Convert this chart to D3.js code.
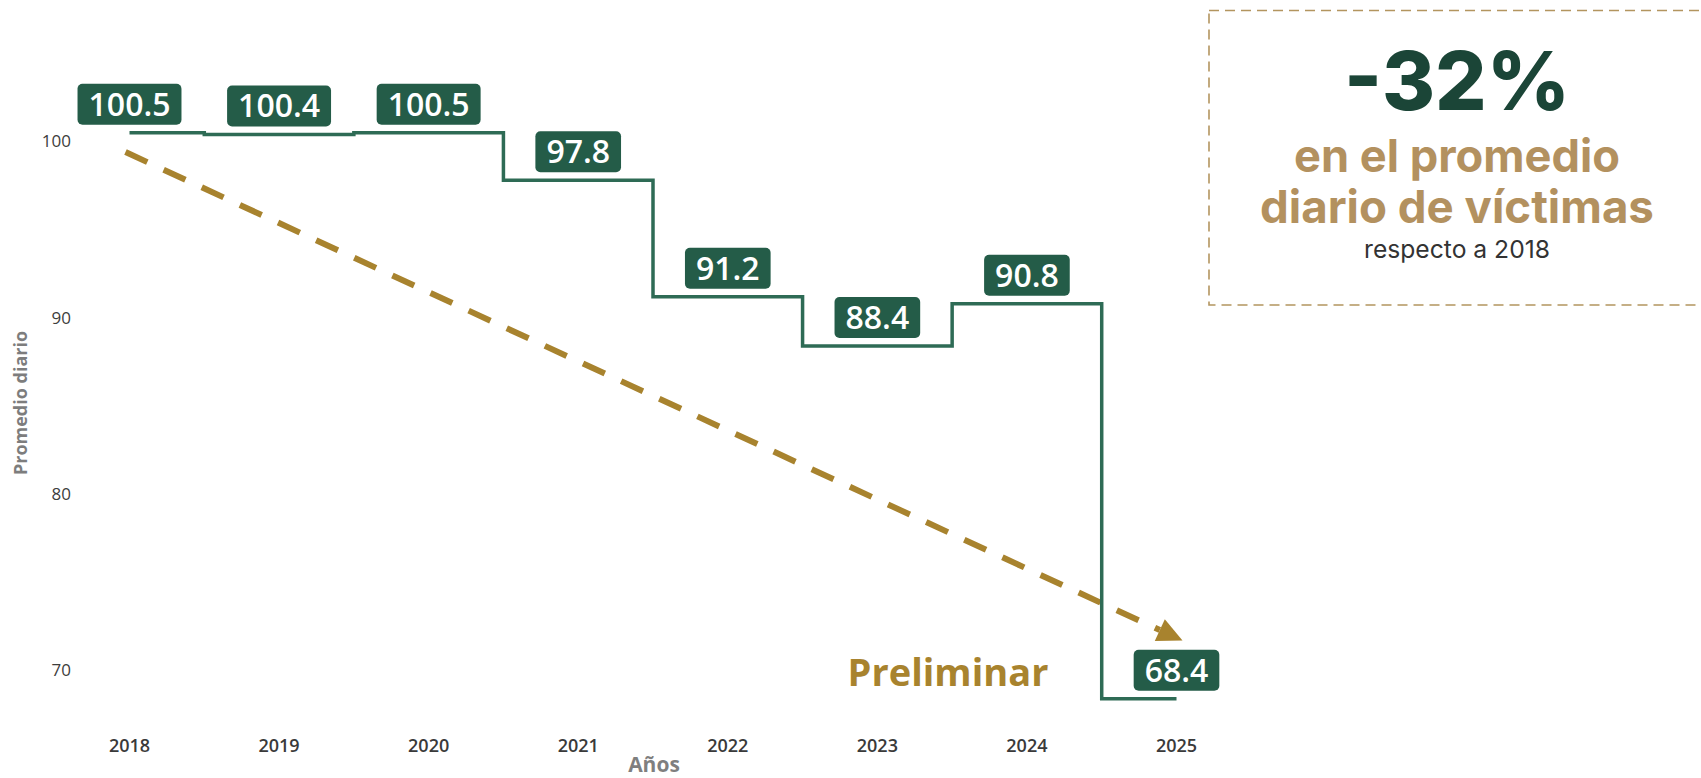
<!DOCTYPE html>
<html>
<head>
<meta charset="utf-8">
<script src="https://cdn.jsdelivr.net/npm/d3@7"></script>
<style>
  html, body { margin: 0; padding: 0; background: #ffffff; }
  svg { display: block; }
</style>
</head>
<body>
<svg id="chart" width="1701" height="778"></svg>
<script>
// ---- data ----
const years = [2018, 2019, 2020, 2021, 2022, 2023, 2024, 2025];
const values = [100.5, 100.4, 100.5, 97.8, 91.2, 88.4, 90.8, 68.4];
const yTicks = [70, 80, 90, 100];
const trendYears = [2018, 2025];
const trendValues = [99.4, 71.7];
const yAxisTitle = "Promedio diario";
const xAxisTitle = "Años";
const noteText = "Preliminar";
const headline = "-32%";
const subLines = ["en el promedio", "diario de víctimas"];
const footLine = "respecto a 2018";

// ---- layout ----
const W = 1701, H = 778;
const svg = d3.select("#chart");
const green = "#245c48", lineGreen = "#2e6b55", gold = "#a8832e", tan = "#b3915f";
const x = d3.scalePoint().domain(years).range([129.5, 1176.5]);
const y = d3.scaleLinear().domain([70, 100]).range([670.5, 141.5]);

// y tick labels
svg.append("g").selectAll("text").data(yTicks).join("text")
  .attr("x", 71).attr("y", d => y(d)).attr("dy", "0.35em")
  .attr("text-anchor", "end")
  .attr("font-family", "Open Sans").attr("font-size", 17).attr("font-weight", 500)
  .attr("fill", "#3d3d3d").text(d => d);

// x tick labels
svg.append("g").selectAll("text").data(years).join("text")
  .attr("x", d => x(d)).attr("y", 746).attr("dy", "0.35em")
  .attr("text-anchor", "middle")
  .attr("font-family", "Open Sans").attr("font-size", 18).attr("font-weight", 600)
  .attr("fill", "#3a3a3a").text(d => d);

// axis titles
svg.append("text")
  .attr("transform", "translate(27,403) rotate(-90)")
  .attr("text-anchor", "middle")
  .attr("font-family", "Open Sans").attr("font-size", 18).attr("font-weight", 700)
  .attr("fill", "#7d7d7d").text(yAxisTitle);
svg.append("text")
  .attr("x", 654).attr("y", 772)
  .attr("text-anchor", "middle")
  .attr("font-family", "Open Sans").attr("font-size", 21).attr("font-weight", 700)
  .attr("fill", "#7f7f7f").text(xAxisTitle);

// trend arrow (dashed)
const p0 = [x(trendYears[0]) - 4, y(trendValues[0])];
const p1 = [x(trendYears[1]) + 6, y(trendValues[1])];
const ang = Math.atan2(p1[1] - p0[1], p1[0] - p0[0]);
const headLen = 25, headHalf = 12;
const base = [p1[0] - headLen * Math.cos(ang), p1[1] - headLen * Math.sin(ang)];
svg.append("line")
  .attr("x1", p0[0]).attr("y1", p0[1]).attr("x2", base[0]).attr("y2", base[1])
  .attr("stroke", gold).attr("stroke-width", 6)
  .attr("stroke-dasharray", "24 18");
const nx = -Math.sin(ang), ny = Math.cos(ang);
svg.append("path")
  .attr("d", `M${p1[0]},${p1[1]}L${base[0] + nx * headHalf},${base[1] + ny * headHalf}L${base[0] - nx * headHalf},${base[1] - ny * headHalf}Z`)
  .attr("fill", gold);

// step line
const data = years.map((yr, i) => ({ year: yr, value: values[i] }));
svg.append("path").datum(data)
  .attr("d", d3.line().x(d => x(d.year)).y(d => y(d.value)).curve(d3.curveStep))
  .attr("fill", "none").attr("stroke", lineGreen).attr("stroke-width", 3.5);

// value labels
const boxH = 41, gap = 8, padX = 11;
const lab = svg.append("g").selectAll("g").data(data).join("g")
  .attr("transform", d => `translate(${x(d.year)},${y(d.value) - gap - boxH / 2})`);
const rects = lab.append("rect").attr("rx", 5).attr("ry", 5).attr("fill", green);
const texts = lab.append("text")
  .attr("text-anchor", "middle").attr("dy", "0.36em")
  .attr("font-family", "Open Sans").attr("font-size", 32).attr("font-weight", 600)
  .attr("fill", "#ffffff").text(d => d.value.toFixed(1));
texts.each(function (d) {
  const w = this.getComputedTextLength();
  d3.select(this.parentNode).select("rect")
    .attr("x", -w / 2 - padX).attr("y", -boxH / 2)
    .attr("width", w + 2 * padX).attr("height", boxH);
});

// "Preliminar"
svg.append("text")
  .attr("x", 948).attr("y", 686)
  .attr("text-anchor", "middle")
  .attr("font-family", "Open Sans").attr("font-size", 38).attr("font-weight", 700)
  .attr("fill", gold).text(noteText);

// annotation box
svg.append("rect")
  .attr("x", 1209).attr("y", 10.5).attr("width", 600).attr("height", 294.5)
  .attr("fill", "none").attr("stroke", "#b3955f").attr("stroke-width", 1.6)
  .attr("stroke-dasharray", "10 6");

function fit(sel, target) {
  const node = sel.node();
  const size = +sel.attr("font-size");
  const w = node.getComputedTextLength();
  sel.attr("font-size", size * target / w);
}
const cx = 1457;
const h1 = svg.append("text").attr("x", cx).attr("y", 110).attr("text-anchor", "middle")
  .attr("font-family", "Inter").attr("font-size", 90).attr("font-weight", 800)
  .attr("fill", "#1b4537").text(headline);
fit(h1, 226);
const sub1 = svg.append("text").attr("x", cx).attr("y", 172).attr("text-anchor", "middle")
  .attr("font-family", "Inter").attr("font-size", 44).attr("font-weight", 700)
  .attr("fill", tan).text(subLines[0]);
fit(sub1, 326);
const sub2 = svg.append("text").attr("x", cx).attr("y", 223).attr("text-anchor", "middle")
  .attr("font-family", "Inter").attr("font-size", 44).attr("font-weight", 700)
  .attr("fill", tan).text(subLines[1]);
fit(sub2, 394);
const foot = svg.append("text").attr("x", cx).attr("y", 258).attr("text-anchor", "middle")
  .attr("font-family", "Inter").attr("font-size", 21).attr("font-weight", 400)
  .attr("fill", "#333333").text(footLine);
fit(foot, 186);
</script>
</body>
</html>
